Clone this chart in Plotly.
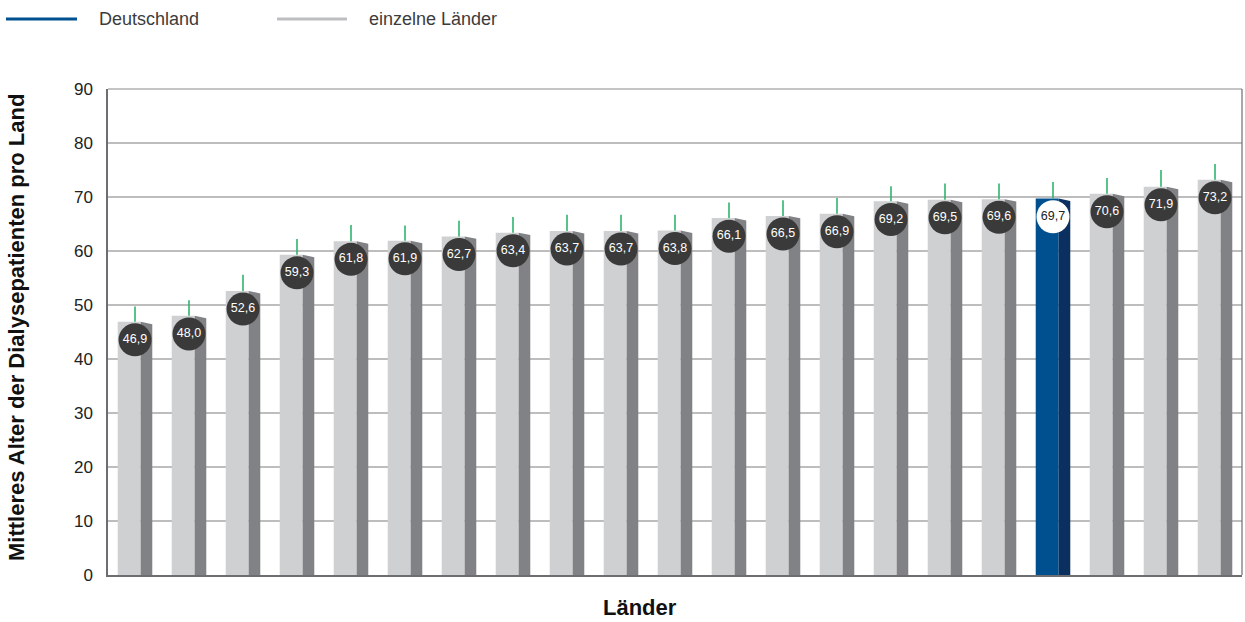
import plotly.graph_objects as go

values = [46.9, 48.0, 52.6, 59.3, 61.8, 61.9, 62.7, 63.4, 63.7, 63.7, 63.8,
          66.1, 66.5, 66.9, 69.2, 69.5, 69.6, 69.7, 70.6, 71.9, 73.2]
upper = [49.7, 50.9, 55.6, 62.2, 64.8, 64.7, 65.6, 66.3, 66.7, 66.7, 66.7,
         69.0, 69.4, 69.8, 72.0, 72.5, 72.5, 72.8, 73.5, 75.0, 76.1]
labels = ["46,9", "48,0", "52,6", "59,3", "61,8", "61,9", "62,7", "63,4", "63,7", "63,7", "63,8",
          "66,1", "66,5", "66,9", "69,2", "69,5", "69,6", "69,7", "70,6", "71,9", "73,2"]
is_de = [False] * 17 + [True] + [False] * 3
y_ticks = [0, 10, 20, 30, 40, 50, 60, 70, 80, 90]

FONT = "Liberation Sans, Arial, Helvetica, sans-serif"
x = list(range(len(values)))

front_col = ["#00508f" if d else "#cfd0d2" for d in is_de]
side_col = ["#0b2f5f" if d else "#808285" for d in is_de]

fig = go.Figure()

# front faces
fig.add_trace(go.Bar(x=x, y=values, width=0.425, offset=-0.32,
                     marker=dict(color=front_col, line=dict(width=0)),
                     showlegend=False, hoverinfo="skip"))

# side faces (slanted top) as polygons in data coordinates
for i, v in enumerate(values):
    xl, xr = i + 0.105, i + 0.32
    fig.add_trace(go.Scatter(x=[xl, xl, xr, xr, xl], y=[0, v, v - 0.45, 0, 0],
                             fill="toself", fillcolor=side_col[i], mode="lines",
                             line=dict(width=0, color=side_col[i]),
                             showlegend=False, hoverinfo="skip"))

# green whiskers
fig.add_trace(go.Scatter(x=x, y=values, mode="markers",
                         marker=dict(size=1, color="rgba(0,0,0,0)"),
                         error_y=dict(type="data", symmetric=False,
                                      array=[u - v for u, v in zip(upper, values)],
                                      arrayminus=[0] * len(values),
                                      width=0, thickness=1.6, color="#2db56d"),
                         showlegend=False, hoverinfo="skip"))

# value circles
circ_col = ["#ffffff" if d else "#3a3a3a" for d in is_de]
txt_col = ["#222222" if d else "#ffffff" for d in is_de]
fig.add_trace(go.Scatter(x=x, y=[v - 3.35 for v in values], mode="markers+text",
                         text=labels, textposition="middle center",
                         textfont=dict(family=FONT, size=12.5, color=txt_col),
                         marker=dict(size=33, color=circ_col, line=dict(width=0)),
                         showlegend=False, hoverinfo="skip"))

LY = (575 - 19) / 486

fig.update_layout(
    width=1245, height=622,
    margin=dict(l=108, r=3, t=89, b=47),
    paper_bgcolor="white", plot_bgcolor="white",
    font=dict(family=FONT, color="#222222"),
    barmode="overlay",
    xaxis=dict(range=[-0.5, len(values) - 0.5], showticklabels=False, showgrid=False,
               zeroline=False, showline=True, linecolor="#6d6e71", linewidth=1.5,
               mirror=False, fixedrange=True),
    yaxis=dict(range=[0, 90], tickvals=y_ticks, ticktext=[str(t) for t in y_ticks],
               tickfont=dict(size=17, color="#222222"), ticks="", ticklabelstandoff=10,
               showgrid=True, gridcolor="#bdbdbd", gridwidth=1.5, zeroline=False,
               showline=True, linecolor="#6d6e71", linewidth=1.5, mirror=False),
    shapes=[
        dict(type="line", xref="paper", yref="paper", x0=0, x1=1, y0=1, y1=1,
             line=dict(color="#8a8a8a", width=1.2)),
        dict(type="line", xref="paper", yref="paper", x0=1, x1=1, y0=0, y1=1,
             line=dict(color="#6d6e71", width=1.2)),
        dict(type="line", xref="paper", yref="paper", x0=(6 - 108) / 1134, x1=(77 - 108) / 1134,
             y0=LY, y1=LY, line=dict(color="#00508f", width=3)),
        dict(type="line", xref="paper", yref="paper", x0=(277 - 108) / 1134, x1=(347 - 108) / 1134,
             y0=LY, y1=LY, line=dict(color="#bcbec0", width=3)),
    ],
    annotations=[
        dict(text="Deutschland", xref="paper", yref="paper", x=(97 - 108) / 1134,
             y=LY, xanchor="left", yanchor="middle", showarrow=False,
             font=dict(size=18, color="#3c3c3c")),
        dict(text="einzelne Länder", xref="paper", yref="paper", x=(367 - 108) / 1134,
             y=LY, xanchor="left", yanchor="middle", showarrow=False,
             font=dict(size=18, color="#3c3c3c")),
        dict(text="<b>Mittleres Alter der Dialysepatienten pro Land</b>", xref="paper", yref="paper",
             x=(16 - 108) / 1134, y=(575 - 328) / 486, xanchor="center", yanchor="middle",
             textangle=-90, showarrow=False, font=dict(size=22, color="#111111")),
        dict(text="<b>Länder</b>", xref="paper", yref="paper", x=(640 - 108) / 1134,
             y=(575 - 607) / 486, xanchor="center", yanchor="middle", showarrow=False,
             font=dict(size=22, color="#111111")),
    ],
)

fig.write_html("out.html", config={"displayModeBar": False},
               post_script="document.body.style.margin='0';document.body.style.overflow='hidden';")
